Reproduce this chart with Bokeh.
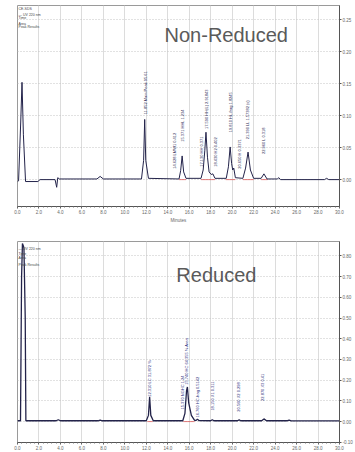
import math
from bokeh.plotting import figure
from bokeh.layouts import column
from bokeh.models import ColumnDataSource, FixedTicker, PrintfTickFormatter, Label
from bokeh.core.properties import value
from bokeh.embed import file_html
from bokeh.resources import INLINE

# ---------------- data ----------------
x_ticks = [0, 2, 4, 6, 8, 10, 12, 14, 16, 18, 20, 22, 24, 26, 28, 30]
nr_y_ticks = [-0.05, 0.0, 0.05, 0.10, 0.15, 0.20, 0.25]
r_y_ticks = [-0.10, 0.0, 0.10, 0.20, 0.30, 0.40, 0.50, 0.60, 0.70, 0.80]

# Non-reduced trace (time in min, signal)
nr_time = [0.0, 0.1, 0.3, 0.42, 0.55, 0.75, 1.9, 2.1, 3.5, 3.65, 3.75, 3.9, 7.4, 7.7, 8.0,
           11.55, 11.75, 11.85, 11.95, 12.2, 15.05, 15.2, 15.34, 15.48, 15.7,
           17.1, 17.3, 17.45, 17.56, 17.7, 17.85, 18.05, 18.2, 18.4,
           19.45, 19.65, 19.81, 19.95, 20.05, 20.15, 20.3,
           21.0, 21.25, 21.48, 21.7, 22.0, 22.7, 22.96, 23.25, 24.2, 24.35, 24.5,
           28.6, 28.8, 29.0, 30.0]
nr_signal = [-0.003, -0.002, 0.09, 0.152, 0.07, -0.003, -0.003, 0.0, 0.0, -0.012, 0.003, 0.001, 0.001, 0.005, 0.001,
             0.001, 0.03, 0.094, 0.03, 0.002, 0.001, 0.014, 0.037, 0.012, 0.002,
             0.002, 0.015, 0.045, 0.074, 0.035, 0.012, 0.008, 0.009, 0.002,
             0.002, 0.02, 0.051, 0.025, 0.015, 0.018, 0.003,
             0.002, 0.018, 0.043, 0.015, 0.002, 0.002, 0.009, 0.001, 0.001, 0.003, 0.0,
             0.0, 0.002, 0.0, 0.0]

nr_label_time = [11.94, 14.63, 15.37, 17.13, 17.59, 18.43, 19.81, 20.65, 21.39, 22.96]
nr_label_base = [0.102, 0.017, 0.059, 0.020, 0.079, 0.020, 0.074, 0.017, 0.063, 0.040]
nr_label_text = ["11.852 Main Peak 95.61", "14.628 LMW1 0.412", "15.371 HHL  1.234",
                 "17.130 HH 0.371", "17.590 HH(L) 2.91843", "18.430 H2 0.402",
                 "19.810 HL-frag 1.8245", "20.650 H 0.3371", "21.390 LL 1.57382 (s)",
                 "22.960 L 0.318"]
nr_int_start = [15.05, 17.1, 19.4, 21.0, 22.7]
nr_int_end = [15.7, 18.4, 20.3, 22.0, 23.3]

# Reduced trace
r_time = [0.0, 0.28, 0.38, 0.46, 0.6, 0.72, 0.78, 3.6, 3.8, 4.0, 7.5, 7.7, 7.9,
          12.0, 12.2, 12.31, 12.42, 12.65, 15.4, 15.6, 15.75, 15.83, 15.95, 16.2, 16.5,
          16.65, 16.76, 16.9, 18.0, 18.15, 18.3, 20.5, 20.65, 20.8,
          22.75, 22.96, 23.2, 25.1, 25.3, 25.5, 30.0]
r_signal = [0.004, 0.004, 0.7, 0.86, 0.84, 0.5, 0.004, 0.004, 0.009, 0.004, 0.004, 0.007, 0.004,
            0.004, 0.03, 0.12, 0.03, 0.004, 0.004, 0.04, 0.15, 0.167, 0.09, 0.03, 0.006,
            0.006, 0.012, 0.005, 0.004, 0.009, 0.004, 0.004, 0.008, 0.004,
            0.004, 0.013, 0.004, 0.004, 0.007, 0.003, 0.003]

r_label_time = [12.31, 15.37, 15.74, 16.76, 18.15, 20.56, 22.87]
r_label_base = [0.12, 0.058, 0.178, 0.02, 0.053, 0.048, 0.10]
r_label_text = ["12.310 LC 31.872 %", "15.370 NGHC 1.24", "15.740 HC 64.355 % Area",
                "16.760 HC-frag 0.5142", "18.150 X1 0.311", "20.560 X2 0.298", "22.870 X3 0.41"]
r_int_start = [12.1, 15.45]
r_int_end = [12.6, 16.5]

legend_lines = ["CE-SDS", "\u2014 UV 220 nm", "Time", "Area", "Peak Results"]

FONT = "Liberation Sans"


def style(p, yticks, with_label):
    p.xaxis.ticker = FixedTicker(ticks=x_ticks,
                                 minor_ticks=[t / 2.5 for t in range(0, 76)])
    p.xaxis.formatter = PrintfTickFormatter(format="%.1f")
    p.yaxis.ticker = FixedTicker(ticks=yticks)
    p.yaxis.formatter = PrintfTickFormatter(format="%.2f")
    for ax in (p.xaxis[0], p.yaxis[0]):
        ax.major_label_text_font_size = "4.5px"
        ax.major_label_text_font = FONT
        ax.major_label_text_color = "#666666"
        ax.axis_line_color = "#555555"
        ax.major_tick_line_color = "#555555"
        ax.minor_tick_line_color = "#777777"
        ax.major_tick_out = 2
        ax.major_tick_in = 0
        ax.minor_tick_out = 1
        ax.minor_tick_in = 0
        ax.major_label_standoff = 1
    if with_label:
        p.xaxis.axis_label = "Minutes"
        p.xaxis.axis_label_text_font_size = "4.5px"
        p.xaxis.axis_label_text_font = FONT
        p.xaxis.axis_label_text_font_style = "normal"
        p.xaxis.axis_label_text_color = "#666666"
        p.xaxis.axis_label_standoff = 1
    p.xgrid.grid_line_color = "#dcdcdc"
    p.ygrid.grid_line_color = "#c4c4c4"
    p.ygrid.grid_line_dash = "1 2"
    p.outline_line_color = "#9a9a9a"
    p.background_fill_color = "white"
    p.border_fill_color = "white"


def build(time, signal, lt, lb, ltxt, is_, ie, yrange, yticks, title, tx, ty,
          legend_y, height, top, bottom, with_label, label_color, line_w):
    p = figure(width=355, height=height, x_range=(0, 30), y_range=yrange,
               y_axis_location="right", toolbar_location=None, output_backend="svg",
               min_border_left=17, min_border_right=14, min_border_top=top,
               min_border_bottom=bottom)
    style(p, yticks, with_label)
    p.segment(x0=is_, x1=ie, y0=[0.0] * len(is_), y1=[0.0] * len(is_),
              line_color="#d84848", line_alpha=0.7, line_width=1)
    p.line(time, signal, line_color="#23234a", line_width=line_w)
    src = ColumnDataSource(dict(t=lt, v=lb, txt=ltxt))
    p.text(x="t", y="v", text="txt", source=src, angle=math.pi / 2,
           text_align="left", text_baseline="middle",
           text_font=value(FONT), text_font_size=value("4px"),
           text_color=label_color)
    p.add_layout(Label(x=tx, y=ty, text=title, text_font=FONT,
                       text_font_size="20px", text_color="#5a5a5a",
                       text_baseline="alphabetic"))
    for line, ly in zip(legend_lines, legend_y):
        p.add_layout(Label(x=0.1, y=ly, text=line, text_font=FONT,
                           text_font_size="3.5px", text_color="#444444",
                           text_baseline="top"))
    return p


p1 = build(nr_time, nr_signal, nr_label_time, nr_label_base, nr_label_text,
           nr_int_start, nr_int_end, (-0.042, 0.272), nr_y_ticks, "Non-Reduced",
           13.7, 0.226, [0.270, 0.261, 0.255, 0.247, 0.241], 225, 5, 17, True,
           "#2a2a55", 1.0)
p2 = build(r_time, r_signal, r_label_time, r_label_base, r_label_text,
           r_int_start, r_int_end, (-0.101, 0.870), r_y_ticks, "Reduced",
           14.8, 0.707, [0.89, 0.845, 0.821, 0.801, 0.767], 227, 16, 9, False,
           "#1f2a7a", 1.3)

layout = column(p1, p2, spacing=0)
open("out.html", "w").write(file_html(layout, INLINE))
